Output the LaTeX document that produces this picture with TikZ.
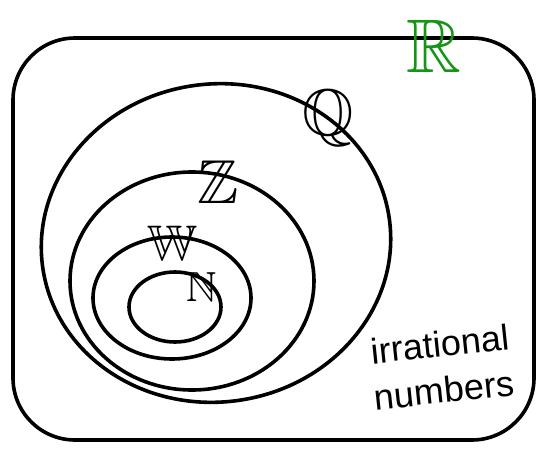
\documentclass[tikz,border=0pt]{standalone}
\usepackage{amssymb}
\usepackage{fontspec}
\setsansfont{Liberation Sans}
\definecolor{rgreen}{RGB}{20,150,20}
\tikzset{
  setline/.style={line width=3.6pt,black},
  setlabel/.style={inner sep=0pt,font=\fontsize{46}{46}\selectfont},
  irrtext/.style={inner sep=0pt,rotate=6,font=\sffamily\fontsize{36}{36}\selectfont},
}

\begin{document}
\begin{tikzpicture}[x=1pt,y=-1pt]
    \useasboundingbox (0,0) rectangle (539,450);
    % the reals
    \draw[setline,rounded corners=62pt] (13,38) rectangle (534,440);
    % nested sets
    \draw[setline,rotate around={8:(216,243)}] (216,243) ellipse [x radius=175,y radius=159];
    \draw[setline] (192,281) ellipse [x radius=122,y radius=109];
    \draw[setline] (172,298) ellipse [x radius=79,y radius=61];
    \draw[setline] (175,307) ellipse [x radius=46,y radius=35];
    % labels
    \node[setlabel,rgreen,font=\fontsize{76}{76}\selectfont] (lblR) at (434,46) {$\mathbb{R}$};
    \node[setlabel,font=\fontsize{66}{66}\selectfont] (lblQ) at (328,118) {$\mathbb{Q}$};
    \node[setlabel,font=\fontsize{62}{62}\selectfont] (lblZ) at (218,182) {$\mathbb{Z}$};
    \node[setlabel,font=\fontsize{50}{50}\selectfont] (lblW) at (172,243) {$\mathbb{W}$};
    \node[setlabel,font=\fontsize{42}{42}\selectfont] (lblN) at (202,287) {$\mathbb{N}$};
    \node[irrtext] (irr1) at (440,344) {irrational};
    \node[irrtext] (irr2) at (444,390) {numbers};
\end{tikzpicture}
\end{document}
